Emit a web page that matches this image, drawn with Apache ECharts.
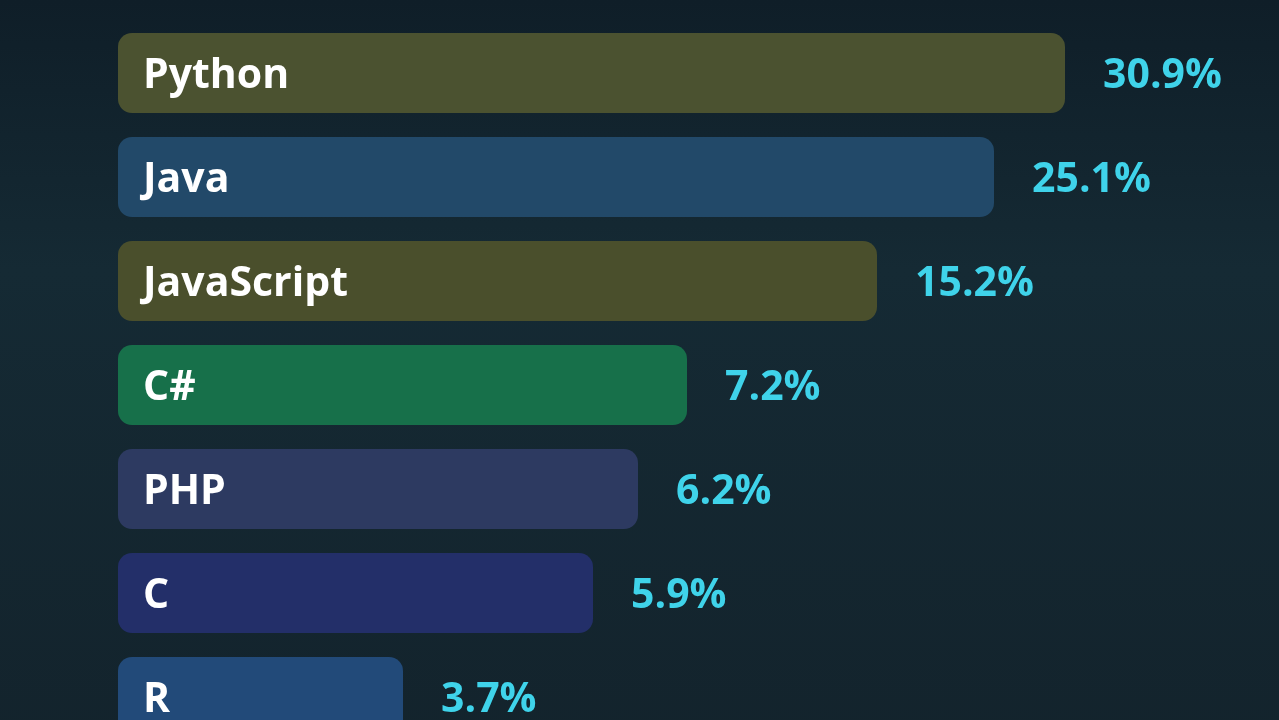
<!DOCTYPE html>
<html>
<head>
<meta charset="utf-8">
<script src="https://cdn.jsdelivr.net/npm/echarts@6/dist/echarts.min.js"></script>
<style>
html,body{margin:0;padding:0;width:1279px;height:720px;overflow:hidden;background:#13232d;}
#c{width:1279px;height:770px;}
</style>
</head>
<body>
<div id="c"></div>
<script>
// Data
const languages = ['Python', 'Java', 'JavaScript', 'C#', 'PHP', 'C', 'R'];
const shares = [30.9, 25.1, 15.2, 7.2, 6.2, 5.9, 3.7];           // labelled percentages
// Drawn bar lengths (the infographic's bars are not proportional to the shares),
// read off the picture on a 0-100 length scale
const barLengths = [94.7, 87.6, 75.9, 56.9, 52.0, 47.5, 28.5];
const barColors = ['#4b5230', '#224969', '#4a4f2c', '#17704a', '#2d3a61', '#232f69', '#224a79'];

const chart = echarts.init(document.getElementById('c'), null, {renderer: 'canvas'});

const fontFamily = '"Open Sans", "DejaVu Sans", sans-serif';

const option = {
  backgroundColor: {
    type: 'linear', x: 0, y: 0, x2: 0, y2: 1,
    colorStops: [
      {offset: 0, color: '#0f1e28'},
      {offset: 0.35, color: '#152a34'},
      {offset: 1, color: '#13232c'}
    ]
  },
  animation: false,
  grid: {left: 118, top: 21, width: 1000, height: 728, containLabel: false},
  xAxis: {
    type: 'value', min: 0, max: 100,
    show: false
  },
  yAxis: {
    type: 'category', data: languages, inverse: true,
    show: false
  },
  series: [
    {
      type: 'bar',
      barWidth: 80,
      data: barLengths.map((v, i) => ({
        value: v,
        itemStyle: {color: barColors[i]}
      })),
      itemStyle: {borderRadius: 14},
      label: {
        show: true,
        position: 'insideLeft',
        distance: 25,
        offset: [0, 3],
        formatter: p => languages[p.dataIndex],
        color: '#ffffff',
        fontFamily: fontFamily,
        fontWeight: 'bold',
        fontSize: 41
      },
      z: 2
    },
    {
      type: 'bar',
      barWidth: 80,
      barGap: '-100%',
      data: barLengths,
      itemStyle: {color: 'rgba(0,0,0,0)'},
      label: {
        show: true,
        position: 'right',
        distance: 38,
        offset: [0, 3],
        formatter: p => shares[p.dataIndex].toFixed(1) + '%',
        color: '#3fd3ea',
        fontFamily: fontFamily,
        fontWeight: 'bold',
        fontSize: 41
      },
      z: 3
    }
  ]
};
chart.setOption(option);
</script>
</body>
</html>
